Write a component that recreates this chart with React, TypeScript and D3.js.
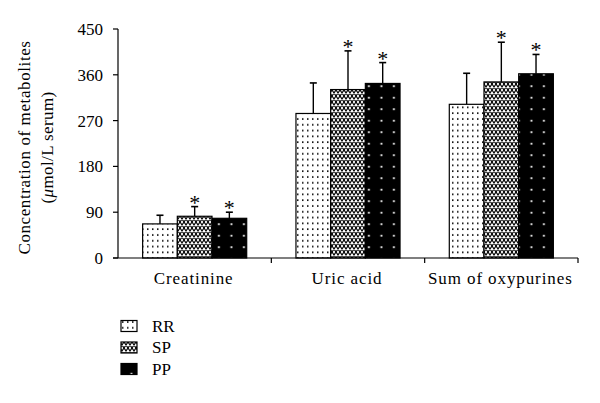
import React from "react";
import * as d3 from "d3";

const categories = ["Creatinine", "Uric acid", "Sum of oxypurines"];
const seriesNames = ["RR", "SP", "PP"];
const rrMeans = [67, 284, 302];
const rrErrors = [17, 60, 61];
const spMeans = [82, 331, 346];
const spErrors = [19, 76, 78];
const ppMeans = [78, 343, 362];
const ppErrors = [12, 41, 38];
const spSignificant = [true, true, true];
const ppSignificant = [true, true, true];
const rrSignificant = [false, false, false];
const yTicks = [0, 90, 180, 270, 360, 450];

const W = 600;
const H = 403;
const left = 118;
const right = 578;
const top = 29;
const bottom = 258;
const FONT = "'Liberation Serif', 'Times New Roman', serif";

export default function App() {
  const y = d3.scaleLinear().domain([0, 450]).range([bottom, top]);
  const x0 = d3.scaleBand<string>().domain(categories).range([left, right]).paddingInner(0).paddingOuter(0);
  const x1 = d3
    .scaleBand<string>()
    .domain(seriesNames)
    .range([0, x0.bandwidth()])
    .paddingInner(0)
    .paddingOuter(0.71);

  const series = [
    { name: "RR", means: rrMeans, errs: rrErrors, sig: rrSignificant, fill: "url(#patRR)" },
    { name: "SP", means: spMeans, errs: spErrors, sig: spSignificant, fill: "url(#patSP)" },
    { name: "PP", means: ppMeans, errs: ppErrors, sig: ppSignificant, fill: "url(#patPP)" },
  ];

  const legendY = d3.scalePoint<string>().domain(seriesNames).range([326, 369]);

  return (
    <svg
      width={W}
      height={H}
      style={{ position: "absolute", left: 0, top: 0, background: "#fff" }}
      fontFamily={FONT}
    >
      <defs>
        <pattern id="patRR" patternUnits="userSpaceOnUse" width="5" height="5.8">
          <rect width="5" height="5.8" fill="#fff" />
          <rect x="2" y="2.2" width="1.5" height="1.6" fill="#000" />
        </pattern>
        <pattern id="patSP" patternUnits="userSpaceOnUse" width="4" height="6">
          <rect width="4" height="6" fill="#fff" />
          <path d="M0,0 L4,6 M4,0 L0,6 M-1,4.5 L1,7.5 M3,-1.5 L5,1.5 M5,4.5 L3,7.5 M1,-1.5 L-1,1.5" stroke="#000" strokeWidth="1.2" fill="none" />
        </pattern>
        <pattern id="patPP" patternUnits="userSpaceOnUse" width="12.5" height="11.5">
          <rect width="12.5" height="11.5" fill="#000" />
          <rect x="5.5" y="4.8" width="1.8" height="1.8" fill="#fff" />
        </pattern>
      </defs>

      {/* bars */}
      {series.map((s) =>
        categories.map((c, i) => {
          const bx = (x0(c) ?? 0) + (x1(s.name) ?? 0);
          const bw = x1.bandwidth();
          const yt = y(s.means[i]);
          const ye = y(s.means[i] + s.errs[i]);
          const cx = bx + bw / 2;
          return (
            <g key={s.name + c}>
              <line x1={cx} x2={cx} y1={yt} y2={ye} stroke="#000" strokeWidth={1.4} />
              <line x1={cx - 3.5} x2={cx + 3.5} y1={ye} y2={ye} stroke="#000" strokeWidth={1.6} />
              <rect x={bx} y={yt} width={bw} height={bottom - yt} fill={s.fill} stroke="#000" strokeWidth={1.2} />
              {s.sig[i] && (
                <text x={cx} y={ye + 3} textAnchor="middle" fontSize={22} fill="#000">
                  *
                </text>
              )}
            </g>
          );
        })
      )}

      {/* y axis */}
      <line x1={left} x2={left} y1={top} y2={bottom} stroke="#000" strokeWidth={1.2} />
      {yTicks.map((t) => (
        <g key={t}>
          <line x1={left - 5} x2={left} y1={y(t)} y2={y(t)} stroke="#000" strokeWidth={1.2} />
          <text x={left - 15} y={y(t)} dy="0.35em" textAnchor="end" fontSize={17} fill="#000">
            {t}
          </text>
        </g>
      ))}

      {/* x axis */}
      <line x1={left - 5} x2={right} y1={bottom} y2={bottom} stroke="#000" strokeWidth={1.2} />
      {categories.map((c) => (
        <g key={c}>
          <line
            x1={(x0(c) ?? 0) + x0.bandwidth()}
            x2={(x0(c) ?? 0) + x0.bandwidth()}
            y1={bottom}
            y2={bottom + 5}
            stroke="#000"
            strokeWidth={1.2}
          />
          <text
            x={(x0(c) ?? 0) + x0.bandwidth() / 2 - 1}
            y={bottom + 26}
            textAnchor="middle"
            fontSize={17}
            letterSpacing={0.9}
            fill="#000"
          >
            {c}
          </text>
        </g>
      ))}

      {/* y label */}
      <g transform={`translate(30,${(top + bottom) / 2 + 4}) rotate(-90)`}>
        <text textAnchor="middle" fontSize={17} letterSpacing={0.6} fill="#000">
          Concentration of metabolites
        </text>
        <text y={23} textAnchor="middle" fontSize={17} letterSpacing={0.4} fill="#000">
          (<tspan fontStyle="italic">μ</tspan>mol/L serum)
        </text>
      </g>

      {/* legend */}
      {series.map((s) => (
        <g key={s.name}>
          <rect x={121} y={(legendY(s.name) ?? 0) - 5.5} width={16} height={11} fill={s.fill} stroke="#000" strokeWidth={1.2} />
          <text x={152} y={legendY(s.name) ?? 0} dy="0.35em" fontSize={17} fill="#000">
            {s.name}
          </text>
        </g>
      ))}
    </svg>
  );
}
